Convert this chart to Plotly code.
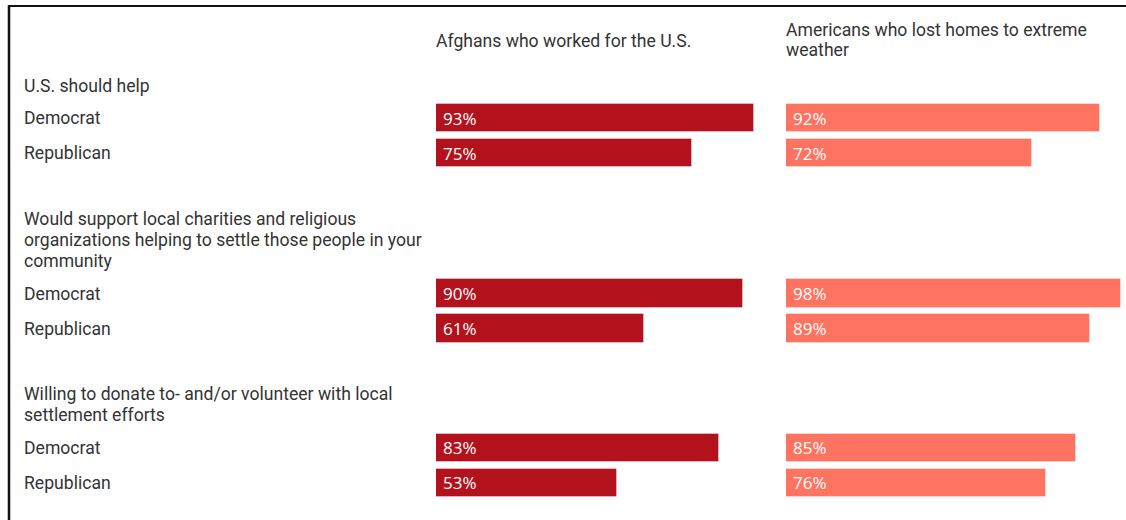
import plotly.graph_objects as go

# Survey data
questions = [
    "U.S. should help",
    "Would support local charities and religious<br>organizations helping to settle those people in your<br>community",
    "Willing to donate to- and/or volunteer with local<br>settlement efforts",
]
parties = ["Democrat", "Republican"]
columns = ["Afghans who worked for the U.S.", "Americans who lost homes to extreme<br>weather"]
afghans = [93, 75, 90, 61, 83, 53]      # Dem, Rep per question
americans = [92, 72, 98, 89, 85, 76]    # Dem, Rep per question

W, H = 1126, 520
DARK_RED = "#B3121D"
SALMON = "#FF7361"
TEXT = "#333333"
FONT = "Roboto"
FSIZE = 17.6

# Vertical layout (pixel units, y axis runs top->bottom)
LINE = 21.3       # header line spacing
HEAD_GAP = 32.5   # last header line -> first bar row
ROW = 35          # row spacing
GROUP_GAP = 65.5  # last bar row -> next header

header_lines, row_pos = [], []
y = 85.5
for q in questions:
    parts = q.split("<br>")
    lines = [y + i * LINE for i in range(len(parts))]
    header_lines.append(list(zip(parts, lines)))
    y = lines[-1] + HEAD_GAP
    for _ in parties:
        row_pos.append(y)
        y += ROW
    y += GROUP_GAP - ROW

PX_PER_PCT = 3.415
col_left = [436, 786]
TXT_DX = -2  # annotation box padding offset

fig = go.Figure()
for i, (vals, color, left) in enumerate(zip([afghans, americans], [DARK_RED, SALMON], col_left)):
    right = min(left + 100 * PX_PER_PCT, W)
    xa = "x" if i == 0 else "x2"
    fig.add_trace(go.Bar(
        x=vals, y=row_pos, orientation="h", width=28.5,
        marker=dict(color=color, line=dict(color="rgba(255,255,255,0.35)", width=1)),
        xaxis=xa, yaxis="y", hoverinfo="skip", showlegend=False,
    ))
    axis = dict(domain=[left / W, right / W], range=[0, (right - left) / PX_PER_PCT],
                visible=False, fixedrange=True)
    if i == 0:
        fig.update_layout(xaxis=axis)
    else:
        fig.update_layout(xaxis2=dict(axis, anchor="y"))
    # value labels inside bars
    for v, yy in zip(vals, row_pos):
        fig.add_annotation(x=0, y=yy, xref=xa, yref="y", text=f"{v}%", showarrow=False,
                           xanchor="left", xshift=5, yshift=0,
                           font=dict(family="Open Sans", size=17, color="white"))
    # column header, one annotation per line
    for j, part in enumerate(columns[i].split("<br>")):
        ly = 41 if "<br>" not in columns[i] else 30 + 20 * j
        fig.add_annotation(x=left / W, y=ly, xref="paper", yref="y", xshift=TXT_DX,
                           text=part, showarrow=False, xanchor="left", align="left",
                           font=dict(family=FONT, size=FSIZE, color=TEXT))

# question headers and party labels
for lines in header_lines:
    for part, ly in lines:
        fig.add_annotation(x=24 / W, y=ly, xref="paper", yref="y", xshift=TXT_DX,
                           text=part, showarrow=False, xanchor="left", align="left",
                           font=dict(family=FONT, size=FSIZE, color=TEXT))
for k, yy in enumerate(row_pos):
    fig.add_annotation(x=24 / W, y=yy, xref="paper", yref="y", xshift=TXT_DX,
                       text=parties[k % 2], showarrow=False, xanchor="left",
                       font=dict(family=FONT, size=FSIZE, color=TEXT))

# frame lines along top and left edge
fig.add_shape(type="line", xref="paper", yref="y", x0=8 / W, x1=1, y0=6, y1=6,
              line=dict(color="#111111", width=2))
fig.add_shape(type="line", xref="paper", yref="y", x0=9 / W, x1=9 / W, y0=5, y1=H,
              line=dict(color="#111111", width=2.5))

fig.update_layout(
    width=W, height=H, margin=dict(l=0, r=0, t=0, b=0),
    paper_bgcolor="white", plot_bgcolor="white",
    yaxis=dict(range=[H, 0], domain=[0, 1], visible=False, fixedrange=True),
    bargap=0,
)
fig.write_html("out.html", config={"displayModeBar": False})
